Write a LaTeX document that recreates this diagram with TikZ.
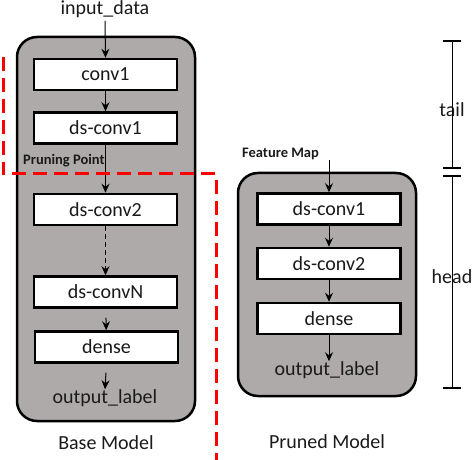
\documentclass[tikz,border=0pt]{standalone}
\usepackage{fontspec}
\setmainfont{Carlito}
\usetikzlibrary{arrows.meta}
\definecolor{gfill}{HTML}{AEAAAA}
\definecolor{txtc}{HTML}{1A1A1A}
\definecolor{redd}{HTML}{FF0000}
\begin{document}
\begin{tikzpicture}[x=1pt,y=-1pt,
  outerbox/.style={draw=black, line width=2.5pt, fill=gfill, rounded corners=20pt, inner sep=0pt},
  blk/.style={draw=black, line width=2.5pt, fill=white, minimum width=143pt, minimum height=31pt, inner sep=0pt, text=txtc, font=\fontsize{20}{23}\selectfont},
  txt/.style={inner sep=0pt, text=txtc, font=\fontsize{20}{23}\selectfont},
  small/.style={inner sep=0pt, text=txtc, font=\bfseries\fontsize{14.5}{17}\selectfont},
  arr/.style={-{Stealth[length=9pt,width=8pt,inset=3pt]}, line width=1pt},
  redline/.style={draw=redd, line width=3pt, dash pattern=on 14pt off 7pt},
  brk/.style={line width=1pt},
  tickmark/.style={line width=2pt}
]
\useasboundingbox (0,0) rectangle (472,460);

% containers
\node[outerbox, minimum width=178pt, minimum height=384pt] (base) at (106,229) {};
\node[outerbox, minimum width=178pt, minimum height=223pt] (pruned) at (327,284.5) {};

% base model
\node[txt] (in) at (105,9) {input\_data};
\node[blk] (c1) at (105.5,74.5) {conv1};
\node[blk] (d1) at (105.5,128) {ds-conv1};
\node[blk] (d2) at (105.5,209.5) {ds-conv2};
\node[blk] (dN) at (105.5,292) {ds-convN};
\node[blk] (de) at (106.5,347) {dense};
\node[txt] (out) at (105,398) {output\_label};
\node[txt] (bm) at (106,443) {Base Model};
\node[small, anchor=west] (pp) at (23,161) {Pruning Point};

\draw[arr] (in.south) ++(0,3) coordinate (inS) -- (c1.north);
\draw[arr] (c1) -- (d1);
\draw[arr] (d1) -- (d2);
\draw[arr, dash pattern=on 5pt off 3pt] (d2) -- (dN);
\draw[arr, shorten <=9pt] (dN) -- (de);
\draw[arr, shorten <=9pt] (de.south) -- (out.north);

% pruned model
\node[small, anchor=west] (fm) at (242,154) {Feature Map};
\coordinate (fmS) at (329,160);
\node[blk] (p1) at (329,209) {ds-conv1};
\node[blk] (p2) at (329,263.5) {ds-conv2};
\node[blk] (pd) at (329,318.5) {dense};
\node[txt] (pout) at (327,370) {output\_label};
\node[txt] (pm) at (327,442) {Pruned Model};

\draw[arr] (fmS) -- (p1.north);
\draw[arr] (p1) -- (p2);
\draw[arr] (p2) -- (pd);
\draw[arr] (pd.south) -- (pout.north -| pd.south);

% red pruning line
\coordinate (r0) at (3,57);
\coordinate (r1) at (3,174);
\coordinate (r2) at (216,174);
\coordinate (r3) at (216,460);
\draw[redline] (r0) -- (r1) -- (r2) -- (r3);

% tail / head brackets
\node[txt] (tail) at (452,110) {tail};
\node[txt] (head) at (452,277) {head};
\coordinate (t0) at (452,41);
\coordinate (t1) at (452,168);
\coordinate (h0) at (452,176);
\coordinate (h1) at (452,388);
\draw[tickmark] ([xshift=-9pt]t0) -- ([xshift=9pt]t0);
\draw[tickmark] ([xshift=-9pt]t1) -- ([xshift=9pt]t1);
\draw[tickmark] ([xshift=-9pt]h0) -- ([xshift=9pt]h0);
\draw[tickmark] ([xshift=-9pt]h1) -- ([xshift=9pt]h1);
\draw[brk] (t0) -- ([yshift=-25pt]tail.center);
\draw[brk] ([yshift=25pt]tail.center) -- (t1);
\draw[brk] (h0) -- ([yshift=-19pt]head.center);
\draw[brk] ([yshift=22pt]head.center) -- (h1);
\end{tikzpicture}
\end{document}
